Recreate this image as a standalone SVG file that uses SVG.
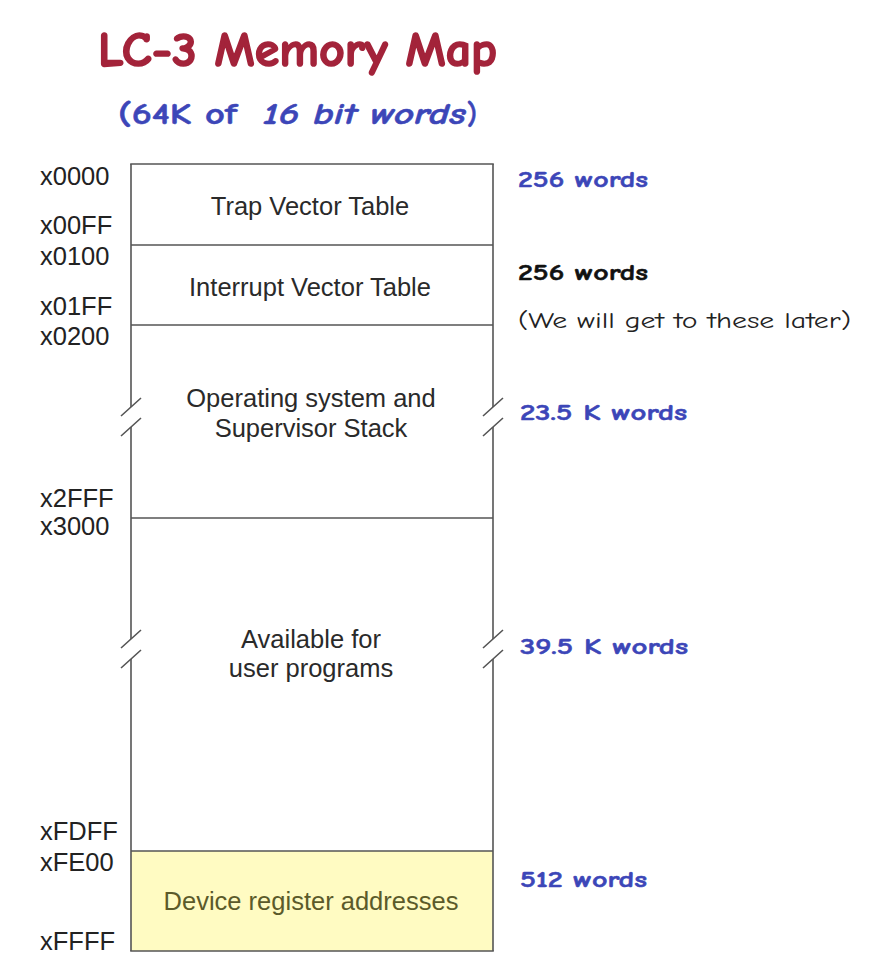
<svg xmlns="http://www.w3.org/2000/svg" width="880" height="972" viewBox="0 0 880 972">
<style>
.bg{fill:#ffffff}
.sep{stroke:#555;stroke-width:1.6;fill:none}
.addr{font-family:"Liberation Sans",Arial,sans-serif;font-size:25.5px;fill:#222}
.lbl{font-family:"Liberation Sans",Arial,sans-serif;font-size:25.5px;fill:#2a2a2a;text-anchor:middle}
.dev{fill:#5b5a2a}
.comic{font-family:"Comic Sans MS","Comic Neue","DejaVu Sans",sans-serif;font-weight:bold}
.blue{fill:#3c46b8;stroke:#3c46b8;stroke-width:0.5}
.size{font-size:22px}
</style>
<rect class="bg" x="0" y="0" width="880" height="972"/>
<g id="title">
<text class="comic" x="98" y="66" font-size="49" fill="#a3233a" stroke="#a3233a" stroke-width="1.6" textLength="399" lengthAdjust="spacingAndGlyphs">LC-3 Memory Map</text>
<text class="comic blue" x="118" y="124" font-size="30" textLength="119" lengthAdjust="spacingAndGlyphs">(64K of</text>
<text class="comic blue" x="263" y="124" font-size="30" font-style="italic" textLength="203" lengthAdjust="spacingAndGlyphs">16 bit words</text>
<text class="comic blue" x="467" y="124" font-size="30" textLength="10" lengthAdjust="spacingAndGlyphs">)</text>
</g>
<g id="trap-vector-table">
<rect x="131" y="164" width="362" height="81" fill="#fff"/>
<text class="lbl" x="310" y="215">Trap Vector Table</text>
</g>
<g id="interrupt-vector-table">
<rect x="131" y="245" width="362" height="80" fill="#fff"/>
<text class="lbl" x="310" y="296">Interrupt Vector Table</text>
</g>
<g id="operating-system">
<text class="lbl" x="311" y="407">Operating system and</text>
<text class="lbl" x="311" y="437">Supervisor Stack</text>
</g>
<g id="user-programs">
<text class="lbl" x="311" y="648">Available for</text>
<text class="lbl" x="311" y="677">user programs</text>
</g>
<g id="device-registers">
<rect x="131" y="851" width="362" height="100" fill="#fffbc2"/>
<text class="lbl dev" x="311" y="910">Device register addresses</text>
</g>
<g id="frame">
<line class="sep" x1="130.2" y1="164" x2="493.8" y2="164"/>
<line class="sep" x1="131" y1="245" x2="493" y2="245"/>
<line class="sep" x1="131" y1="325" x2="493" y2="325"/>
<line class="sep" x1="131" y1="518" x2="493" y2="518"/>
<line class="sep" x1="131" y1="851" x2="493" y2="851"/>
<line class="sep" x1="130.2" y1="951" x2="493.8" y2="951"/>
<path class="sep" d="M131 164V407M131 427V639M131 659V951M493 164V407M493 427V639M493 659V951"/>
<path class="sep" d="M121 416L141 398M121 436L141 418M483 416L503 398M483 436L503 418M121 648L141 630M121 668L141 650M483 648L503 630M483 668L503 650"/>
</g>
<g id="addresses">
<text class="addr" x="40" y="185">x0000</text>
<text class="addr" x="40" y="234">x00FF</text>
<text class="addr" x="40" y="265">x0100</text>
<text class="addr" x="40" y="315">x01FF</text>
<text class="addr" x="40" y="345">x0200</text>
<text class="addr" x="40" y="507">x2FFF</text>
<text class="addr" x="40" y="535">x3000</text>
<text class="addr" x="40" y="840">xFDFF</text>
<text class="addr" x="40" y="871">xFE00</text>
<text class="addr" x="40" y="950">xFFFF</text>
</g>
<g id="sizes">
<text class="comic blue size" x="518" y="187" textLength="130" lengthAdjust="spacingAndGlyphs">256 words</text>
<text class="comic size" x="518" y="280" fill="#111" stroke="#111" stroke-width="0.5" textLength="130" lengthAdjust="spacingAndGlyphs">256 words</text>
<text class="size" x="518" y="328" fill="#222" font-family="'Comic Sans MS','Comic Neue','DejaVu Sans',sans-serif" textLength="333" lengthAdjust="spacingAndGlyphs">(We will get to these later)</text>
<text class="comic blue size" x="520" y="420" textLength="167" lengthAdjust="spacingAndGlyphs">23.5 K words</text>
<text class="comic blue size" x="520" y="654" textLength="168" lengthAdjust="spacingAndGlyphs">39.5 K words</text>
<text class="comic blue size" x="520" y="887" textLength="127" lengthAdjust="spacingAndGlyphs">512 words</text>
</g>
</svg>
